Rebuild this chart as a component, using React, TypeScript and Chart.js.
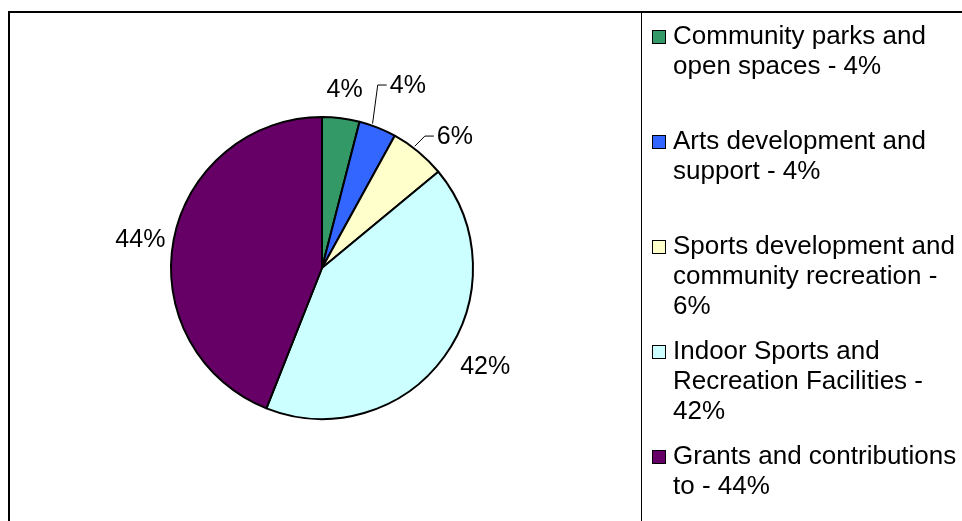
import React, { useEffect, useRef } from "react";
import { Chart, registerables } from "chart.js";

Chart.register(...registerables);

const categories = [
  "Community parks and open spaces",
  "Arts development and support",
  "Sports development and community recreation",
  "Indoor Sports and Recreation Facilities",
  "Grants and contributions to",
];
const values = [4, 4, 6, 42, 44];
const colors = ["#339966", "#3366FF", "#FFFFCC", "#CCFFFF", "#660066"];

// label layout styling (angle nudge in degrees, distance beyond the rim, leader line)
const labelAngleShift = [0, 3.4, 5.4, -5.2, -1.6];
const labelGap = [30, 52, 37, 39, 33];
const labelLeader = [false, true, true, false, false];

const FONT = "Arial, 'Liberation Sans', sans-serif";

const decorPlugin = {
  id: "decor",
  beforeDraw(chart: any) {
    const ctx = chart.ctx;
    const W = chart.width;
    const H = chart.height;
    ctx.save();
    ctx.fillStyle = "#ffffff";
    ctx.fillRect(0, 0, W, H);
    ctx.fillStyle = "#000000";
    // outer frame (top and left)
    ctx.fillRect(8, 11, W - 8, 2);
    ctx.fillRect(8, 11, 2, H - 11);
    // legend divider
    ctx.fillRect(641, 12, 1, H - 12);
    ctx.restore();
  },
  afterDatasetsDraw(chart: any) {
    const ctx = chart.ctx;
    const meta = chart.getDatasetMeta(0);
    ctx.save();
    ctx.font = `25px ${FONT}`;
    ctx.fillStyle = "#000000";
    ctx.textAlign = "center";
    ctx.textBaseline = "middle";
    const total = values.reduce((a, b) => a + b, 0);
    meta.data.forEach((arc: any, i: number) => {
      const p = arc.getProps(["x", "y", "startAngle", "endAngle", "outerRadius"], true);
      const mid = (p.startAngle + p.endAngle) / 2;
      const a = mid + (labelAngleShift[i] * Math.PI) / 180;
      const d = p.outerRadius + labelGap[i];
      const lx = p.x + Math.cos(a) * d;
      const ly = p.y + Math.sin(a) * d;
      const text = Math.round((values[i] / total) * 100) + "%";
      ctx.fillText(text, lx, ly + 2);
      if (labelLeader[i]) {
        const w = ctx.measureText(text).width;
        const left = lx - w / 2;
        const sa = mid - (2.3 * Math.PI) / 180;
        const sx = p.x + Math.cos(sa) * (p.outerRadius + 2);
        const sy = p.y + Math.sin(sa) * (p.outerRadius + 2);
        ctx.beginPath();
        ctx.strokeStyle = "#000000";
        ctx.lineWidth = 1;
        ctx.moveTo(sx, sy);
        ctx.lineTo(left - 12, ly + 1);
        ctx.lineTo(left - 3, ly + 1);
        ctx.stroke();
      }
    });

    // legend
    ctx.font = `26px ${FONT}`;
    ctx.textAlign = "left";
    ctx.textBaseline = "middle";
    const maxW = 288;
    categories.forEach((cat, i) => {
      const full = `${cat} - ${values[i]}%`;
      const words = full.split(" ");
      const lines: string[] = [];
      let cur = "";
      words.forEach((wd) => {
        const test = cur ? cur + " " + wd : wd;
        if (ctx.measureText(test).width > maxW && cur) {
          lines.push(cur);
          cur = wd;
        } else {
          cur = test;
        }
      });
      if (cur) lines.push(cur);
      const y0 = 35 + 105 * i;
      ctx.fillStyle = colors[i];
      ctx.fillRect(652, y0 - 5, 14, 14);
      ctx.strokeStyle = "#000000";
      ctx.lineWidth = 1;
      ctx.strokeRect(652.5, y0 - 4.5, 13, 13);
      ctx.fillStyle = "#000000";
      lines.forEach((ln, k) => {
        ctx.fillText(ln, 673, y0 + 2 + 30 * k);
      });
    });
    ctx.restore();
  },
};

export default function App() {
  const ref = useRef<HTMLCanvasElement | null>(null);
  useEffect(() => {
    if (!ref.current) return;
    const chart = new Chart(ref.current, {
      type: "pie",
      data: {
        labels: categories,
        datasets: [
          {
            data: values,
            backgroundColor: colors,
            borderColor: "#000000",
            borderWidth: 2,
          },
        ],
      },
      options: {
        responsive: false,
        animation: false,
        devicePixelRatio: 1,
        radius: 151,
        layout: { padding: { left: 10, right: 328, top: 20, bottom: 5 } },
        plugins: {
          legend: { display: false },
          tooltip: { enabled: false },
          title: { display: false },
        },
      } as any,
      plugins: [decorPlugin],
    });
    return () => chart.destroy();
  }, []);
  return (
    <div style={{ position: "absolute", left: 0, top: 0, width: 962, height: 521, background: "#fff" }}>
      <canvas ref={ref} width={962} height={521} style={{ width: 962, height: 521, display: "block" }} />
    </div>
  );
}
